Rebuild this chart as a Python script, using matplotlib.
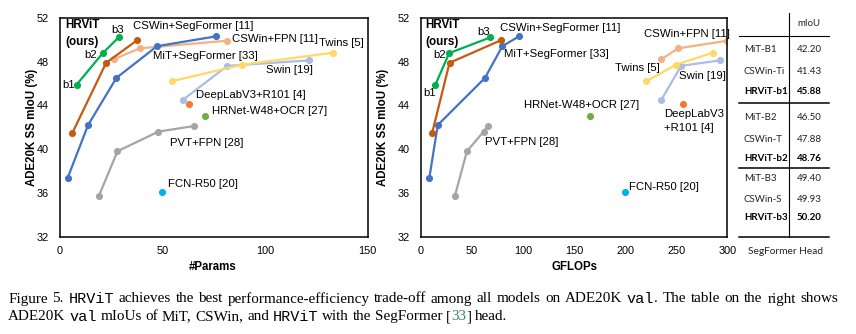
import matplotlib
matplotlib.use("Agg")
import matplotlib.pyplot as plt
from matplotlib.lines import Line2D

W, H = 856, 334

# ---- data ----
miou_hrvit = [45.88, 48.76, 50.20]
params_hrvit = [8.1, 20.8, 28.6]
gflops_hrvit = [14.4, 27.8, 68.1]

miou_mit = [37.4, 42.2, 46.5, 49.4, 50.3]
params_mit = [3.8, 13.7, 27.5, 47.3, 76.2]
gflops_mit = [8.5, 16.7, 62.9, 79.9, 96.3]

miou_cswin_seg = [41.43, 47.88, 49.93]
params_cswin_seg = [5.9, 22.5, 37.5]
gflops_cswin_seg = [11.1, 28.2, 78.3]

miou_cswin_fpn = [48.2, 49.2, 49.9]
params_cswin_fpn = [26.2, 38.8, 81.4]
gflops_cswin_fpn = [235.5, 251.9, 300.0]

miou_twins = [46.2, 47.7, 48.8]
params_twins = [54.6, 88.6, 133.0]
gflops_twins = [220.8, 249.6, 285.6]

miou_swin = [44.5, 47.6, 48.1]
params_swin = [59.9, 81.6, 121.2]
gflops_swin = [235.5, 254.8, 292.5]

miou_pvt = [35.7, 39.8, 41.6, 42.1]
params_pvt = [18.9, 28.0, 48.0, 65.1]
gflops_pvt = [33.4, 45.2, 61.6, 65.5]

miou_deeplab, params_deeplab, gflops_deeplab = 44.1, 62.7, 256.5
miou_hrnet, params_hrnet, gflops_hrnet = 43.0, 70.5, 165.4
miou_fcn, params_fcn, gflops_fcn = 36.1, 49.8, 199.5

table_models = [["MiT-B1", "CSWin-Ti", "HRViT-b1"],
                ["MiT-B2", "CSWin-T", "HRViT-b2"],
                ["MiT-B3", "CSWin-S", "HRViT-b3"]]
table_miou = [["42.20", "41.43", "45.88"],
              ["46.50", "47.88", "48.76"],
              ["49.40", "49.93", "50.20"]]

c_hrvit = "#00B050"
c_mit = "#4472C4"
c_cswin_seg = "#C55A11"
c_cswin_fpn = "#F4B183"
c_twins = "#FFD966"
c_swin = "#A9BDE6"
c_pvt = "#A5A5A5"
c_deeplab = "#ED7D31"
c_hrnet = "#70AD47"
c_fcn = "#00B0F0"

sans = "Liberation Sans"
plt.rcParams["font.family"] = sans

fig = plt.figure(figsize=(W / 100, H / 100), dpi=100)


def fx(x):
    return x / W


def fy(y):
    return 1 - y / H


def make_ax(x0, x1, xmax, xticks, xlabel, xlabel_x, ylabel_x):
    ax = fig.add_axes([fx(x0), fy(236.7), fx(x1 - x0), 219 / H])
    ax.set_xlim(0, xmax)
    ax.set_ylim(32, 52)
    ax.set_xticks(xticks)
    ax.set_yticks([32, 36, 40, 44, 48, 52])
    ax.tick_params(length=0, labelsize=7.8, pad=6.5)
    ax.tick_params(axis="y", pad=8)
    for s in ax.spines.values():
        s.set_linewidth(1.1)
    fig.text(fx(xlabel_x), fy(267), xlabel, ha="center", va="center",
             fontsize=8.3, fontweight="bold")
    fig.text(fx(ylabel_x), fy(127), "ADE20K SS mIoU (%)", ha="center",
             va="center", rotation=90, fontsize=8.3, fontweight="bold")
    return ax


def draw_series(ax, xs):
    lw, ms = 1.6, 4.1
    ax.plot(xs["pvt"], miou_pvt, "-o", color=c_pvt, lw=lw, ms=ms)
    ax.plot(xs["swin"], miou_swin, "-o", color=c_swin, lw=lw, ms=ms)
    ax.plot(xs["twins"], miou_twins, "-o", color=c_twins, lw=lw, ms=ms)
    ax.plot(xs["cswin_fpn"], miou_cswin_fpn, "-o", color=c_cswin_fpn, lw=lw, ms=ms)
    ax.plot([xs["deeplab"]], [miou_deeplab], "o", color=c_deeplab, ms=ms)
    ax.plot([xs["hrnet"]], [miou_hrnet], "o", color=c_hrnet, ms=ms)
    ax.plot([xs["fcn"]], [miou_fcn], "o", color=c_fcn, ms=ms)
    ax.plot(xs["mit"], miou_mit, "-o", color=c_mit, lw=lw, ms=ms)
    ax.plot(xs["cswin_seg"], miou_cswin_seg, "-o", color=c_cswin_seg, lw=lw, ms=ms)
    ax.plot(xs["hrvit"], miou_hrvit, "-o", color=c_hrvit, lw=lw, ms=ms)


ax1 = make_ax(60, 367.7, 150, [0, 50, 100, 150], "#Params", 213, 32)
draw_series(ax1, dict(pvt=params_pvt, swin=params_swin, twins=params_twins,
                      cswin_fpn=params_cswin_fpn, deeplab=params_deeplab,
                      hrnet=params_hrnet, fcn=params_fcn, mit=params_mit,
                      cswin_seg=params_cswin_seg, hrvit=params_hrvit))

ax2 = make_ax(420.7, 727.3, 300, [0, 50, 100, 150, 200, 250, 300], "GFLOPs", 575, 383)
draw_series(ax2, dict(pvt=gflops_pvt, swin=gflops_swin, twins=gflops_twins,
                      cswin_fpn=gflops_cswin_fpn, deeplab=gflops_deeplab,
                      hrnet=gflops_hrnet, fcn=gflops_fcn, mit=gflops_mit,
                      cswin_seg=gflops_cswin_seg, hrvit=gflops_hrvit))

fs = 8.2
lbl = dict(fontsize=fs, va="center", ha="left")

# annotations, left chart
ax1.text(2.4, 51.33, "HRViT", fontsize=8.4, fontweight="bold", va="center")
ax1.text(2.4, 49.78, "(ours)", fontsize=8.4, fontweight="bold", va="center")
ax1.text(28, 50.9, "b3", fontsize=fs, va="center", ha="center")
ax1.text(14.7, 48.55, "b2", fontsize=fs, va="center", ha="center")
ax1.text(4.1, 45.85, "b1", fontsize=fs, va="center", ha="center")
ax1.text(35.5, 51.24, "CSWin+SegFormer [11]", **lbl)
ax1.text(83.9, 50.05, "CSWin+FPN [11]", **lbl)
ax1.text(126.2, 49.66, "Twins [5]", **lbl)
ax1.text(45.3, 48.5, "MiT+SegFormer [33]", **lbl)
ax1.text(100.5, 47.19, "Swin [19]", **lbl)
ax1.text(66.4, 44.94, "DeepLabV3+R101 [4]", **lbl)
ax1.text(74.3, 43.45, "HRNet-W48+OCR [27]", **lbl)
ax1.text(53.7, 40.52, "PVT+FPN [28]", **lbl)
ax1.text(52.6, 36.81, "FCN-R50 [20]", **lbl)

# annotations, right chart
ax2.text(4.9, 51.33, "HRViT", fontsize=8.4, fontweight="bold", va="center")
ax2.text(4.9, 49.78, "(ours)", fontsize=8.4, fontweight="bold", va="center")
ax2.text(61.6, 50.66, "b3", fontsize=fs, va="center", ha="center")
ax2.text(18.3, 48.55, "b2", fontsize=fs, va="center", ha="center")
ax2.text(8.5, 45.15, "b1", fontsize=fs, va="center", ha="center")
ax2.text(78, 51.03, "CSWin+SegFormer [11]", **lbl)
ax2.text(81.2, 48.65, "MiT+SegFormer [33]", **lbl)
ax2.text(218.8, 50.48, "CSWin+FPN [11]", **lbl)
ax2.text(190.3, 47.43, "Twins [5]", **lbl)
ax2.text(253.2, 46.67, "Swin [19]", **lbl)
ax2.text(101.5, 44.0, "HRNet-W48+OCR [27]", **lbl)
ax2.text(237.8, 43.2, "DeepLabV3", **lbl)
ax2.text(237.8, 41.9, "+R101 [4]", **lbl)
ax2.text(62.6, 40.68, "PVT+FPN [28]", **lbl)
ax2.text(204, 36.57, "FCN-R50 [20]", **lbl)

# ---- table ----
tfont = ["Lato", "DejaVu Sans"]
tfs = 7.0
fig.add_artist(Line2D([fx(789.3)] * 2, [fy(13), fy(236.7)], color="black", lw=0.8))
for y, lw in [(36, 0.8), (102.5, 1.1), (168.5, 1.1), (236.7, 1.1)]:
    fig.add_artist(Line2D([fx(739), fx(829)], [fy(y)] * 2, color="black", lw=lw))
fig.text(fx(797), fy(24), "mIoU", fontsize=tfs, family=tfont, va="center", color="#222222")
row_y = [[49, 71, 92], [117, 139, 158.5], [178.5, 199, 218]]
for g in range(3):
    for r in range(3):
        bold = r == 2
        kw = dict(fontsize=tfs, family=tfont, va="center",
                  fontweight="bold" if bold else "normal",
                  color="black" if bold else "#222222")
        fig.text(fx(744), fy(row_y[g][r]), table_models[g][r], **kw)
        fig.text(fx(797), fy(row_y[g][r]), table_miou[g][r], **kw)
fig.text(fx(785), fy(251.5), "SegFormer Head", fontsize=7.3, family=tfont,
         ha="center", va="center", color="#222222")

# ---- caption ----
serif = "Liberation Serif"
mono = "Liberation Mono"
cfs = 10.9
renderer = fig.canvas.get_renderer()


def measure(s, fam):
    t = fig.text(0, 0, s, fontsize=cfs, family=fam)
    w = t.get_window_extent(renderer).width
    t.remove()
    return w


def caption_line(y, parts, width=None):
    # words placed one by one, spaces stretched to justify the line
    items = []
    for s, fam, col in parts:
        words = s.split(" ")
        for i, wd in enumerate(words):
            if i > 0:
                items.append(("space", fam, None))
            if wd:
                items.append((wd, fam, col))
    space_w = measure("a a", serif) - measure("aa", serif)
    widths = []
    n_space = 0
    for s, fam, col in items:
        if s == "space":
            widths.append(space_w)
            n_space += 1
        else:
            widths.append(measure(s, fam))
    extra = 0
    if width is not None and n_space:
        extra = (width - sum(widths)) / n_space
    x = 8.3
    for (s, fam, col), w in zip(items, widths):
        if s == "space":
            x += w + extra
            continue
        fig.text(fx(x), fy(y), s, fontsize=cfs, family=fam, color=col,
                 va="center", ha="left")
        x += w


caption_line(299, [("Figure 5. ", serif, "black"), ("HRViT", mono, "black"),
                   (" achieves the best performance-efficiency trade-off among all models on ADE20K ", serif, "black"),
                   ("val", mono, "black"), (". The table on the right shows", serif, "black")],
             width=838 - 8.3)
caption_line(316.7, [("ADE20K ", serif, "black"), ("val", mono, "black"),
                     (" mIoUs of MiT, CSWin, and ", serif, "black"), ("HRViT", mono, "black"),
                     (" with the SegFormer [", serif, "black"), ("33", serif, "#2E8B57"),
                     ("] head.", serif, "black")])

fig.savefig("out.png", dpi=100)
